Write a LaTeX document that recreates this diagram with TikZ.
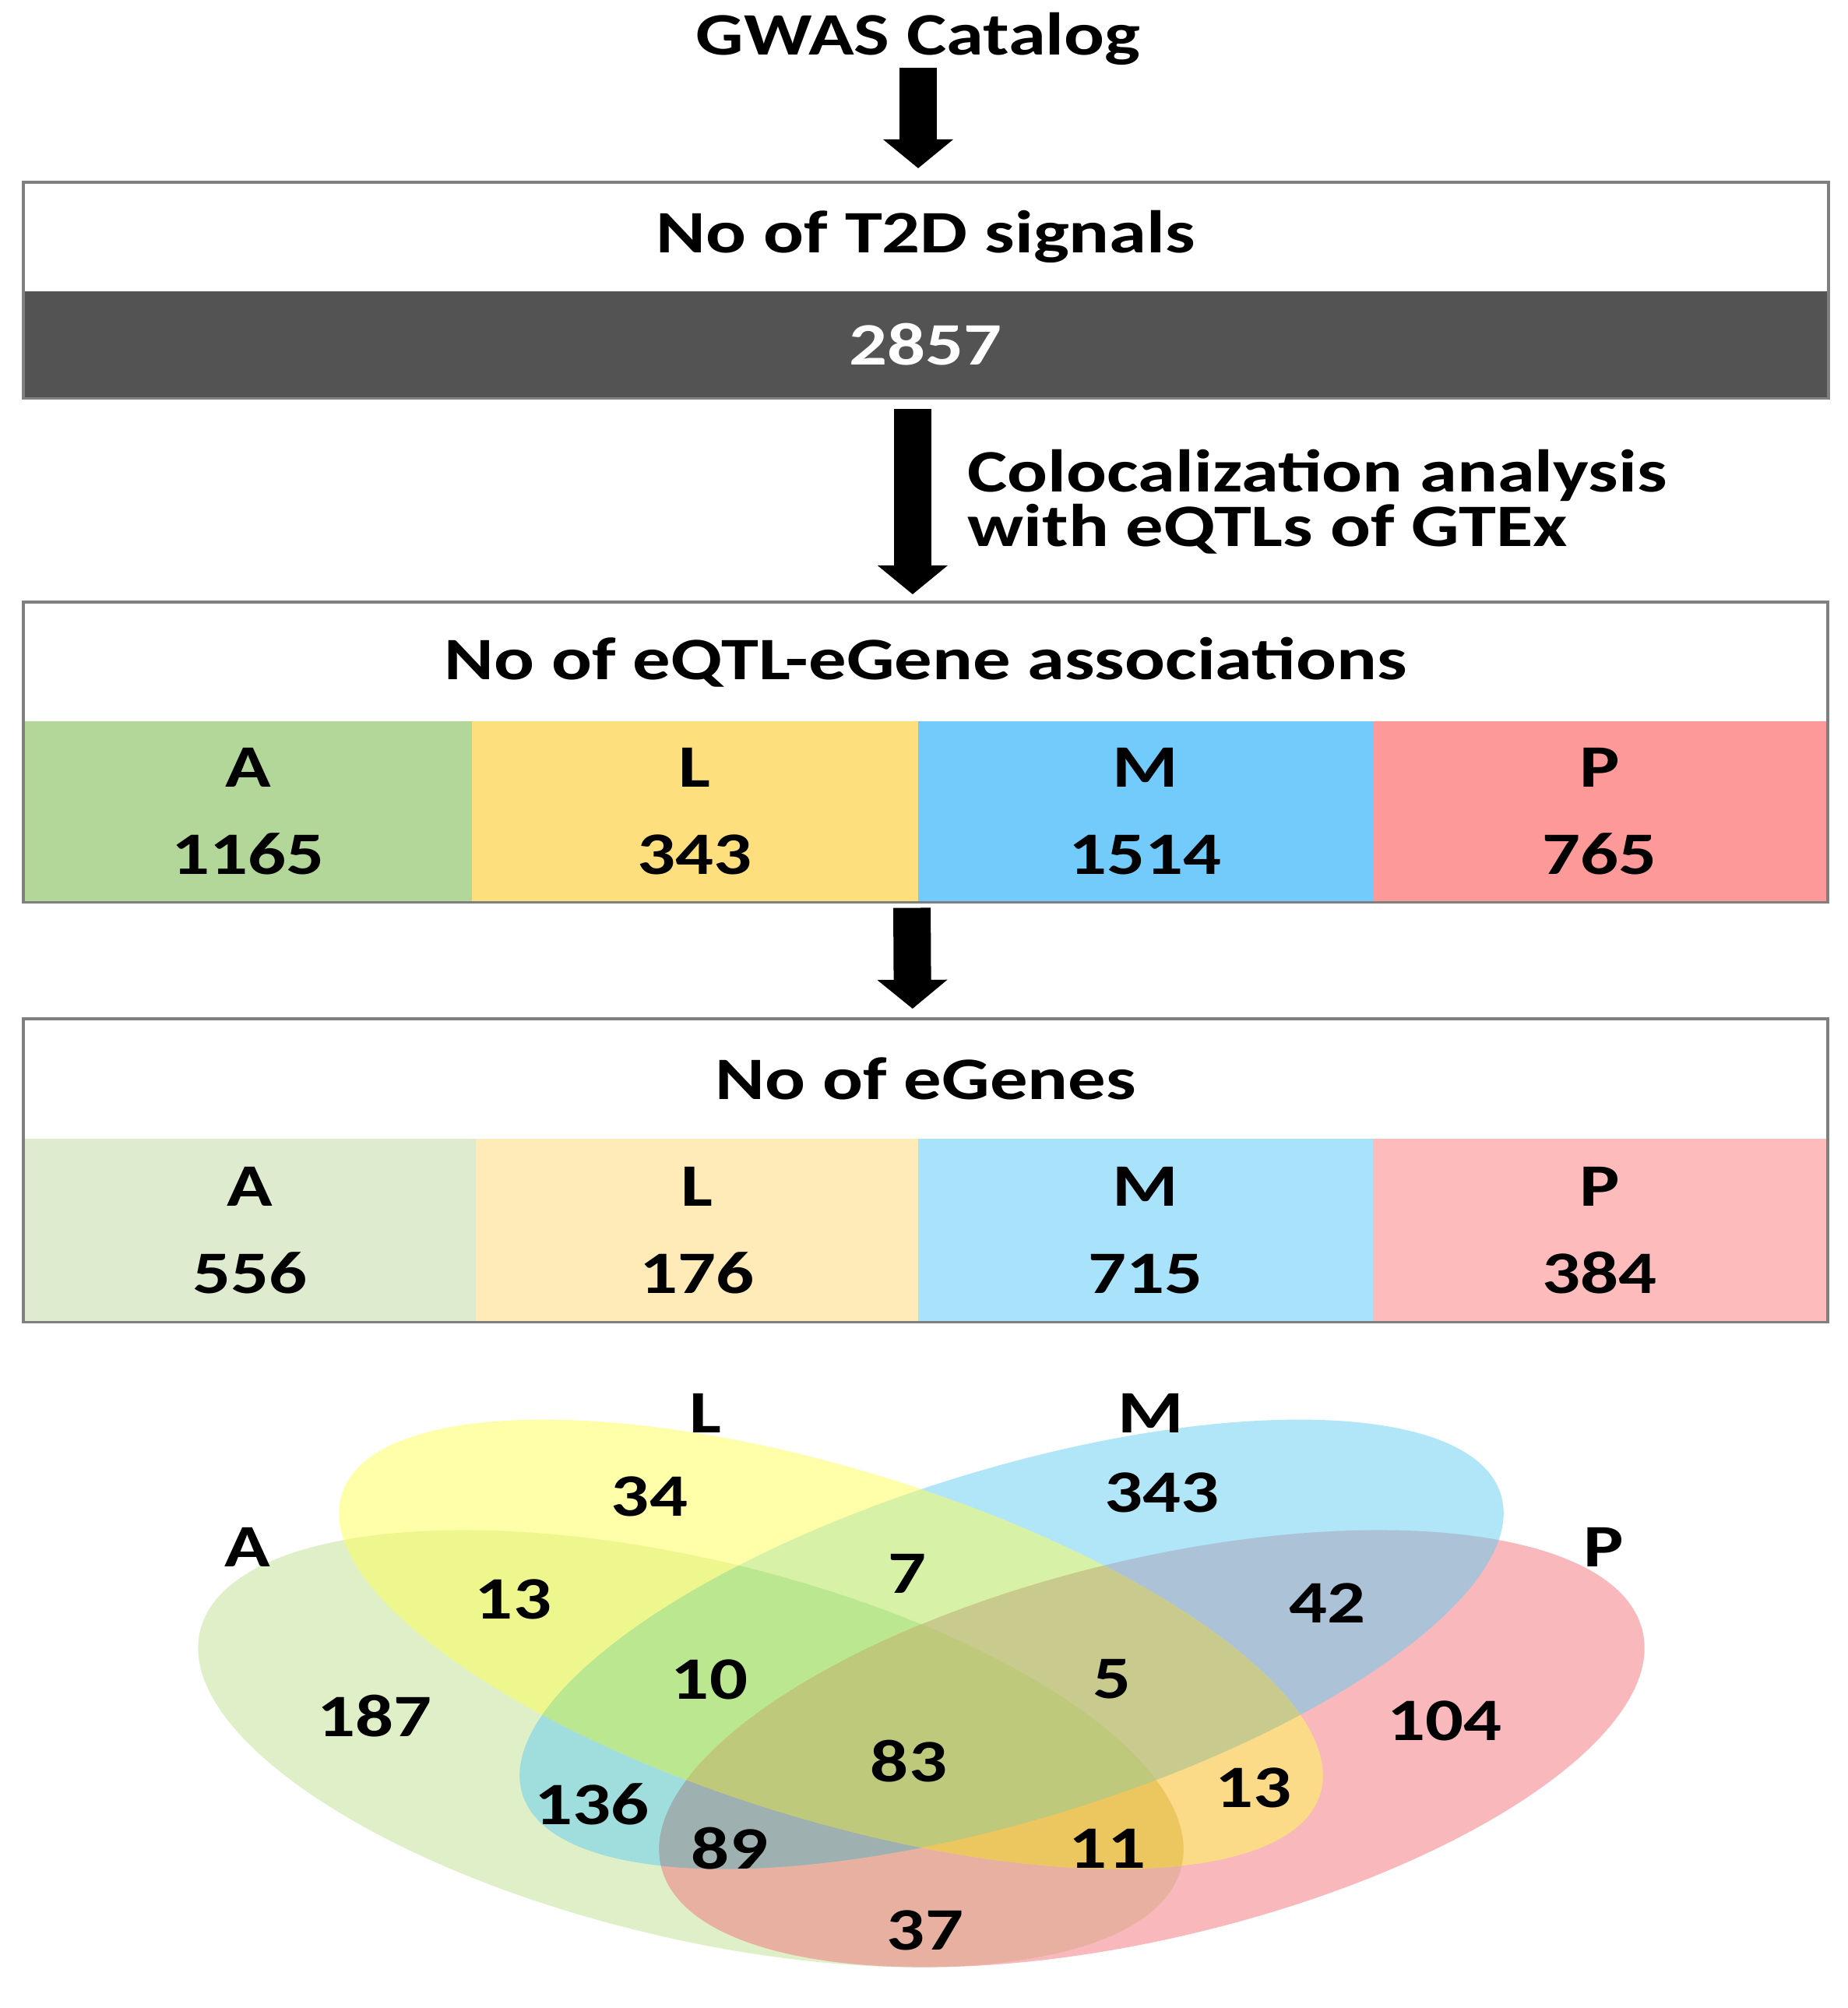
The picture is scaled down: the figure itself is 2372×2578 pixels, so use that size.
\documentclass[tikz,border=0pt]{standalone}
\usepackage{fontspec}
\setmainfont{Carlito}[FakeStretch=1.25]
\usetikzlibrary{arrows.meta}
\definecolor{boxgray}{HTML}{7F7F7F}
\definecolor{darkband}{HTML}{535353}
\definecolor{assocgreen}{HTML}{B3D699}
\definecolor{assocyellow}{HTML}{FEDF7D}
\definecolor{assocblue}{HTML}{72CBFA}
\definecolor{assocred}{HTML}{FE9999}
\definecolor{genegreen}{HTML}{DEEBCF}
\definecolor{geneyellow}{HTML}{FEEBB7}
\definecolor{geneblue}{HTML}{A9E2FB}
\definecolor{genered}{HTML}{FEBBBB}
\definecolor{venngreen}{HTML}{BFE191}
\definecolor{vennyellow}{HTML}{FFFF55}
\definecolor{vennblue}{HTML}{61CDF1}
\definecolor{vennred}{HTML}{F17179}
\definecolor{mixALM}{HTML}{BAE78F}
\definecolor{mixLMP}{HTML}{C8CB8D}
\definecolor{mixAMP}{HTML}{9EB0AF}
\definecolor{mixALP}{HTML}{ECC65F}
\definecolor{mixALMP}{HTML}{BEC97B}
\begin{document}
\begin{tikzpicture}[x=0.01cm, y=-0.01cm,
    every node/.style={inner sep=0pt, font=\fontsize{22}{20}\selectfont\bfseries},
    box/.style={rectangle, anchor=north west, minimum width=23.15cm},
    cell/.style={rectangle, anchor=north west, align=center, font=\fontsize{22}{31.9}\selectfont\bfseries},
    frame/.style={draw=boxgray, line width=1pt},
    blockarrow/.style={line width=0.48cm, -{Triangle[width=0.88cm, length=0.37cm]}},
    venn/.style={fill opacity=0.5},
    ellA/.style={rotate around={-13.5:(887,2245)}},
    ellP/.style={rotate around={13.5:(1479,2245)}},
    ellM/.style={rotate around={17:(1299,2111)}},
    ellL/.style={rotate around={-17:(1067,2111)}}]
\useasboundingbox (0,0) rectangle (2372,2578);

% top of the flow
\node[anchor=base] (gwas) at (1179,70) {GWAS Catalog};
\node[box, minimum height=1.39cm, fill=white] (t2d) at (30,234) {No of T2D signals};
\node[box, minimum height=1.37cm, fill=darkband, text=white] (n2857) at (30,373) {2857};
\draw[frame] (t2d.north west) rectangle (n2857.south east);
\draw[blockarrow, shorten <=0.03cm, shorten >=0.18cm] (gwas.south) -- (gwas.south |- t2d.north);

\node[anchor=north west, align=left] (coloc) at (1242,576) {Colocalization analysis\\with eQTLs of GTEx};

% eQTL-eGene associations
\node[box, minimum height=1.52cm] (assoc) at (30,773) {No of eQTL-eGene associations};
\node[cell, minimum width=5.75cm, minimum height=2.32cm, fill=assocgreen] (assocA) at (30,925) {A\\1165};
\node[cell, minimum width=5.73cm, minimum height=2.32cm, fill=assocyellow] (assocL) at (605,925) {L\\343};
\node[cell, minimum width=5.84cm, minimum height=2.32cm, fill=assocblue] (assocM) at (1178,925) {M\\1514};
\node[cell, minimum width=5.83cm, minimum height=2.32cm, fill=assocred] (assocP) at (1762,925) {P\\765};
\draw[frame] (assoc.north west) rectangle (assocP.south east);
\draw[blockarrow, shorten <=0.13cm, shorten >=0.1cm] ([xshift=-0.17cm]n2857.south) -- ([xshift=-0.17cm]assoc.north);

% eGenes
\node[box, minimum height=1.53cm] (egenes) at (30,1308) {No of eGenes};
\node[cell, minimum width=5.80cm, minimum height=2.35cm, fill=genegreen] (geneA) at (30,1461) {A\\556};
\node[cell, minimum width=5.68cm, minimum height=2.35cm, fill=geneyellow] (geneL) at (610,1461) {L\\176};
\node[cell, minimum width=5.84cm, minimum height=2.35cm, fill=geneblue] (geneM) at (1178,1461) {M\\715};
\node[cell, minimum width=5.83cm, minimum height=2.35cm, fill=genered] (geneP) at (1762,1461) {P\\384};
\draw[frame] (egenes.north west) rectangle (geneP.south east);
\draw[blockarrow, shorten <=0.07cm, shorten >=0.13cm] ([xshift=-0.07cm]assocM.south west) -- ([xshift=-0.17cm]egenes.north);

% venn of the eGenes
\fill[venn, venngreen, ellA] (887,2245) ellipse [x radius=648, y radius=243];
\fill[venn, vennred, ellP] (1479,2245) ellipse [x radius=648, y radius=243];
\fill[venn, vennblue, ellM] (1299,2111) ellipse [x radius=657, y radius=225];
\fill[venn, vennyellow, ellL] (1067,2111) ellipse [x radius=657, y radius=225];

% triple and quadruple overlaps
\begin{scope}
  \clip[ellA] (887,2245) ellipse [x radius=648, y radius=243];
  \clip[ellL] (1067,2111) ellipse [x radius=657, y radius=225];
  \clip[ellM] (1299,2111) ellipse [x radius=657, y radius=225];
  \fill[mixALM] (0,1700) rectangle (2372,2578);
\end{scope}
\begin{scope}
  \clip[ellL] (1067,2111) ellipse [x radius=657, y radius=225];
  \clip[ellM] (1299,2111) ellipse [x radius=657, y radius=225];
  \clip[ellP] (1479,2245) ellipse [x radius=648, y radius=243];
  \fill[mixLMP] (0,1700) rectangle (2372,2578);
\end{scope}
\begin{scope}
  \clip[ellA] (887,2245) ellipse [x radius=648, y radius=243];
  \clip[ellM] (1299,2111) ellipse [x radius=657, y radius=225];
  \clip[ellP] (1479,2245) ellipse [x radius=648, y radius=243];
  \fill[mixAMP] (0,1700) rectangle (2372,2578);
\end{scope}
\begin{scope}
  \clip[ellA] (887,2245) ellipse [x radius=648, y radius=243];
  \clip[ellL] (1067,2111) ellipse [x radius=657, y radius=225];
  \clip[ellP] (1479,2245) ellipse [x radius=648, y radius=243];
  \fill[mixALP] (0,1700) rectangle (2372,2578);
\end{scope}
\begin{scope}
  \clip[ellA] (887,2245) ellipse [x radius=648, y radius=243];
  \clip[ellL] (1067,2111) ellipse [x radius=657, y radius=225];
  \clip[ellM] (1299,2111) ellipse [x radius=657, y radius=225];
  \clip[ellP] (1479,2245) ellipse [x radius=648, y radius=243];
  \fill[mixALMP] (0,1700) rectangle (2372,2578);
\end{scope}

\node (setA) at (318,1986) {A};
\node (setL) at (906,1814) {L};
\node (setM) at (1478,1814) {M};
\node (setP) at (2059,1986) {P};

\node (nL) at (834,1921) {34};
\node (nM) at (1492,1916) {343};
\node (nAL) at (659,2053) {13};
\node (nLM) at (1165,2020) {7};
\node (nMP) at (1704,2058) {42};
\node (nA) at (481,2203) {187};
\node (nALM) at (911,2156) {10};
\node (nLMP) at (1428,2156) {5};
\node (nP) at (1855,2209) {104};
\node (nALMP) at (1167,2261) {83};
\node (nAM) at (760,2316) {136};
\node (nLP) at (1609,2295) {13};
\node (nAMP) at (937,2373) {89};
\node (nALP) at (1422,2373) {11};
\node (nAP) at (1188,2478) {37};
\end{tikzpicture}
\end{document}
